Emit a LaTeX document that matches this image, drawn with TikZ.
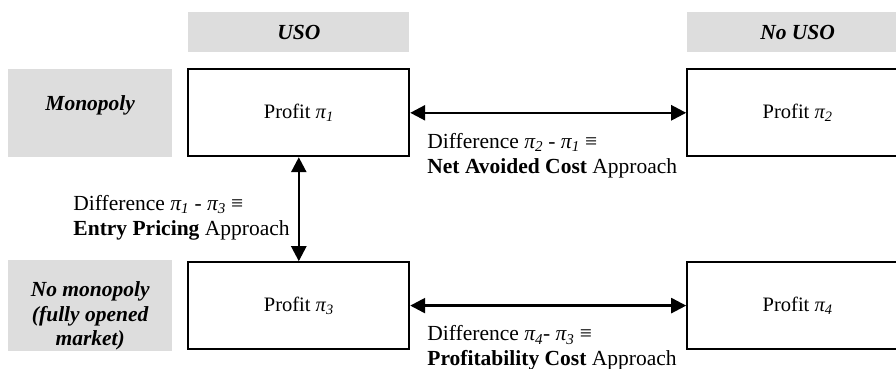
\documentclass[tikz,border=0pt]{standalone}
\usepackage{fontspec}
\setmainfont{Liberation Serif}
\usetikzlibrary{arrows.meta, positioning}
\definecolor{header}{RGB}{221, 221, 221}
\newcommand{\pisub}[1]{\textit{π\textsubscript{#1}}}

\begin{document}
\begin{tikzpicture}[
    x=1pt, y=-1pt,
    font=\fontsize{21.5}{24.5}\selectfont,
    % Styles embedded for portability
    box_profit/.style={rectangle, draw=black, line width=1.8pt, fill=white, minimum width=221pt, minimum height=87pt, inner sep=0pt, align=center, font=\fontsize{20.5}{24}\selectfont},
    box_head/.style={rectangle, fill=header, minimum width=221pt, minimum height=40pt, inner sep=0pt, font=\fontsize{21.5}{24}\selectfont\bfseries\itshape},
    box_row/.style={rectangle, fill=header, minimum width=164pt, minimum height=88pt, inner sep=0pt, align=center, font=\fontsize{21.5}{24.5}\selectfont\bfseries\itshape},
    note/.style={inner sep=0pt, align=left},
    line/.style={draw, line width=2.5pt, {Triangle[length=15pt, width=15pt]}-{Triangle[length=15pt, width=15pt]}}
]
    \useasboundingbox (0,0) rectangle (896,369);

    % --- PROFIT BOXES ---
    \node [box_profit] (p1) at (298.8,112.8) {Profit \pisub{1}};
    \node [box_profit, right=276pt of p1] (p2) {Profit \pisub{2}};
    \node [box_profit, below=104pt of p1] (p3) {Profit \pisub{3}};
    \node [box_profit, right=276pt of p3] (p4) {Profit \pisub{4}};

    % --- COLUMN HEADERS ---
    \node [box_head, above=16pt of p1] (uso) {USO};
    \node [box_head, above=16pt of p2] (no_uso) {No USO};

    % --- ROW HEADERS ---
    \node [box_row, left=15pt of p1, text depth=19pt] (mono) {Monopoly};
    \node [box_row, left=15pt of p3, minimum height=91pt] (no_mono) {\rule{0pt}{36pt}No monopoly\\(fully opened\\market)};

    % --- CONNECTIONS ---
    \draw [line] (p1) -- (p2);
    \draw [line] (p1) -- (p3);
    \draw [line] (p3) -- (p4);

    % --- APPROACH LABELS ---
    \node [note, below right=20.5pt and 17pt of p1.east] (avoided) {Difference \pisub{2} - \pisub{1} ≡\\\textbf{Net Avoided Cost} Approach};
    \node [note, below left=38pt and 9pt of p1.south] (entry) {Difference \pisub{1} - \pisub{3} ≡\\\textbf{Entry Pricing} Approach};
    \node [note, below right=20pt and 17pt of p3.east] (profitability) {Difference \pisub{4}- \pisub{3} ≡\\\textbf{Profitability Cost} Approach};

\end{tikzpicture}
\end{document}
